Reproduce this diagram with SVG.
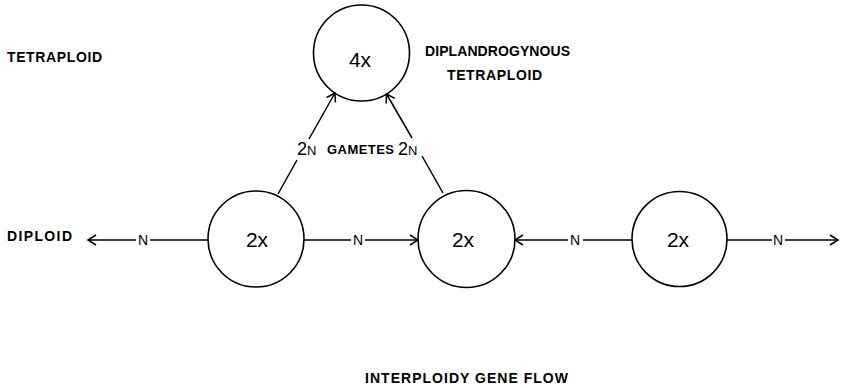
<svg xmlns="http://www.w3.org/2000/svg" width="843" height="388" viewBox="0 0 843 388">
<style>
.node circle{fill:none;stroke:#000;stroke-width:1.6}
.big{font-family:"Liberation Sans",Arial,sans-serif;font-size:21px;fill:#000;text-anchor:middle}
.lbl{font-family:"Liberation Sans",Arial,sans-serif;font-size:14px;font-weight:bold;fill:#000}
.n{font-family:"Liberation Sans",Arial,sans-serif;font-size:14px;fill:#000;text-anchor:middle}
.n2{font-family:"Liberation Sans",Arial,sans-serif;font-size:13px;fill:#000;text-anchor:start}
.conn line{stroke:#000;stroke-width:1.5;fill:none}
</style>
<defs>
<marker id="arr" markerUnits="userSpaceOnUse" markerWidth="14" markerHeight="14" viewBox="-10 -7 12 14" refX="0" refY="0" orient="auto">
<path d="M -8 -5 L 0 0 L -8 5" fill="none" stroke="#000" stroke-width="1.5"/>
</marker>
</defs>
<rect width="843" height="388" fill="#fff"/>
<g id="node-4x" class="node">
<circle cx="361.5" cy="53" r="48"/>
<text class="big" x="360" y="67">4x</text>
</g>
<g id="node-2x-left" class="node">
<circle cx="256" cy="239" r="48"/>
<text class="big" x="257" y="247">2x</text>
</g>
<g id="node-2x-middle" class="node">
<circle cx="466.5" cy="239" r="48.5"/>
<text class="big" x="463" y="247">2x</text>
</g>
<g id="node-2x-right" class="node">
<circle cx="679.5" cy="239" r="47.5"/>
<text class="big" x="678" y="247">2x</text>
</g>
<g id="connectors" class="conn">
<line x1="208" y1="240" x2="150" y2="240"/>
<line x1="136" y1="240" x2="88" y2="240" marker-end="url(#arr)"/>
<line x1="304" y1="240" x2="351" y2="240"/>
<line x1="365" y1="240" x2="418" y2="240" marker-end="url(#arr)"/>
<line x1="632" y1="240" x2="583" y2="240"/>
<line x1="568" y1="240" x2="515" y2="240" marker-end="url(#arr)"/>
<line x1="727" y1="240" x2="772" y2="240"/>
<line x1="785" y1="240" x2="838" y2="240" marker-end="url(#arr)"/>
<line x1="278" y1="194" x2="297" y2="160"/>
<line x1="309" y1="139" x2="335" y2="93" marker-end="url(#arr)"/>
<line x1="443" y1="193" x2="422" y2="156"/>
<line x1="412" y1="138" x2="386.5" y2="94" marker-end="url(#arr)"/>
<text class="n" x="143" y="245">N</text>
<text class="n" x="358" y="245">N</text>
<text class="n" x="575" y="245">N</text>
<text class="n" x="778" y="245">N</text>
<text class="n2" x="297" y="155"><tspan style="font-size:18px">2</tspan>N</text>
<text class="n2" x="398" y="155"><tspan style="font-size:18px">2</tspan>N</text>
</g>
<text class="lbl" x="327" y="154" style="font-size:13px" textLength="67" lengthAdjust="spacing">GAMETES</text>
<text class="lbl" x="7" y="62" textLength="95" lengthAdjust="spacing">TETRAPLOID</text>
<text class="lbl" x="425" y="56" textLength="145" lengthAdjust="spacing">DIPLANDROGYNOUS</text>
<text class="lbl" x="447" y="80" textLength="95" lengthAdjust="spacing">TETRAPLOID</text>
<text class="lbl" x="7" y="241" textLength="65" lengthAdjust="spacing">DIPLOID</text>
<text class="lbl" x="365" y="383" textLength="203" lengthAdjust="spacing">INTERPLOIDY GENE FLOW</text>
</svg>
